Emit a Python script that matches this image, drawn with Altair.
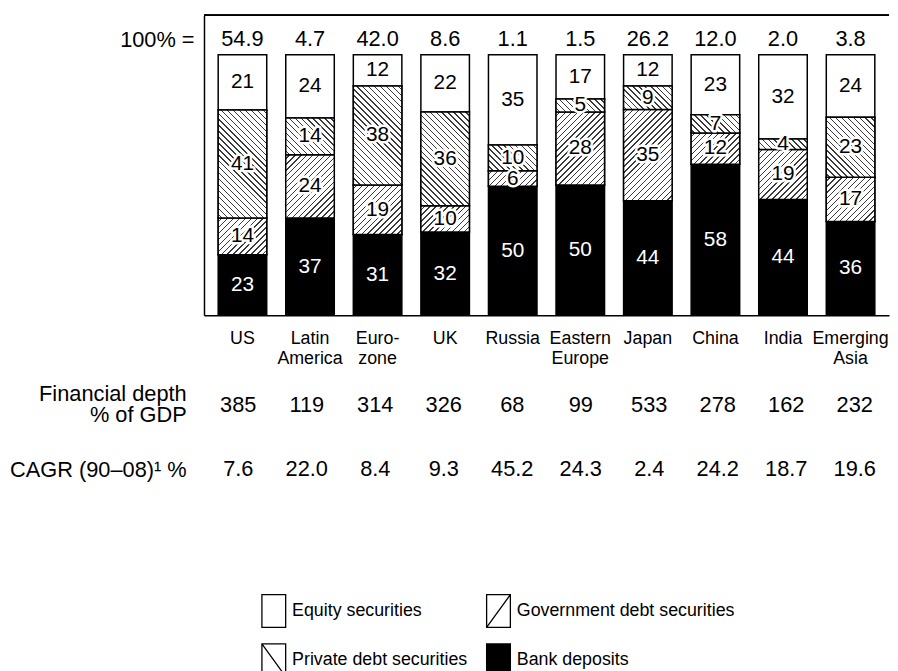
import altair as alt
import pandas as pd

# ---------------- data ----------------
categories = ["US", "Latin\nAmerica", "Euro-\nzone", "UK", "Russia",
              "Eastern\nEurope", "Japan", "China", "India", "Emerging\nAsia"]
totals = [54.9, 4.7, 42.0, 8.6, 1.1, 1.5, 26.2, 12.0, 2.0, 3.8]
series = ["Bank deposits", "Government debt securities",
          "Private debt securities", "Equity securities"]  # bottom -> top
bank = [23, 37, 31, 32, 50, 50, 44, 58, 44, 36]
government = [14, 24, 19, 10, 6, 28, 35, 12, 19, 17]
private = [41, 14, 38, 36, 10, 5, 9, 7, 4, 23]
equity = [21, 24, 12, 22, 35, 17, 12, 23, 32, 24]
depth = [385, 119, 314, 326, 68, 99, 533, 278, 162, 232]
cagr = [7.6, 22.0, 8.4, 9.3, 45.2, 24.3, 2.4, 24.2, 18.7, 19.6]
row_labels = ["Financial depth\n% of GDP", "CAGR (90\u201308)\u00b9 %"]
legend_order = ["Equity securities", "Government debt securities",
                "Private debt securities", "Bank deposits"]

# ---------------- layout constants ----------------
FONT = "Liberation Sans"
W = 692          # plot width
H = 303          # plot height of bar panel
YMAX = 115.1     # top of framed area (percent units)
PI, PO = 0.2817, 0.21
n = len(categories)
step = W / (n - PI + 2 * PO)
BW = step * (1 - PI)

values = {series[0]: bank, series[1]: government,
          series[2]: private, series[3]: equity}

rows = []
for i, c in enumerate(categories):
    tot = sum(values[s][i] for s in series)
    acc = 0.0
    for s in series:
        v = values[s][i]
        y0 = acc / tot * 100
        acc += v
        y1 = acc / tot * 100
        rows.append(dict(cat=c, series=s, value=v, y0=y0, y1=y1,
                         mid=(y0 + y1) / 2, idx=len(rows)))
df = pd.DataFrame(rows)

tot_df = pd.DataFrame({"cat": categories, "total": totals})

tab_rows = []
for i, c in enumerate(categories):
    tab_rows.append(dict(cat=c, metric=row_labels[0], txt=f"{depth[i]:d}"))
    tab_rows.append(dict(cat=c, metric=row_labels[1], txt=f"{cagr[i]:.1f}"))
tab_df = pd.DataFrame(tab_rows)


def hatch(h, direction, P=6.0, lw=1.0, color="#3a3a3a"):
    w = BW
    L = w + h
    half = lw * 1.414 / 2 / L
    stops = [{"offset": 0, "color": "white"}]
    k = 1
    while True:
        c = (k * P - 2) / L
        if c + half >= 1:
            break
        if c - half > 0:
            stops += [{"offset": c - half, "color": "white"},
                      {"offset": c - half, "color": color},
                      {"offset": c + half, "color": color},
                      {"offset": c + half, "color": "white"}]
        k += 1
    stops.append({"offset": 1, "color": "white"})
    r = h / w
    s = (1 + r) / (1 + r * r)
    if direction == "/":
        return {"gradient": "linear", "x1": 0, "y1": 0, "x2": s, "y2": s * r,
                "stops": stops}
    return {"gradient": "linear", "x1": 1, "y1": 0, "x2": 1 - s, "y2": s * r,
            "stops": stops}


xscale = alt.Scale(domain=categories, paddingInner=PI, paddingOuter=PO)
yscale = alt.Scale(domain=[0, YMAX], nice=False, zero=True)
XS = alt.X("cat:N", scale=xscale, sort=categories)

X = alt.X("cat:N", scale=xscale, sort=categories,
          axis=alt.Axis(title=None, labelAngle=0, ticks=False, domain=True,
                        domainColor="black", domainWidth=1.5,
                        labelFontSize=18, labelColor="black",
                        labelLineHeight=21, labelPadding=14,
                        labelExpr="split(datum.label, '\\n')"))
Y = alt.Y("y0:Q", scale=yscale,
          axis=alt.Axis(title=None, values=[106], labelExpr="'100% ='",
                        ticks=False, grid=False, domain=True,
                        domainColor="black", domainWidth=1.5,
                        labelFontSize=22, labelColor="black",
                        labelPadding=10))

BOX = "M-0.727,-1H0.727V1H-0.727Z"
shape_range = [BOX, BOX + " M-0.727,1L0.727,-1",
               BOX + " M-0.727,-1L0.727,1", BOX]

legend = alt.Legend(
    title=None, orient="none", legendX=53, legendY=584, columns=2,
    direction="horizontal",
    symbolSize=1089, labelFontSize=18, labelFont=FONT, labelColor="black",
    labelLimit=400, labelOffset=1, columnPadding=13, rowPadding=11,
    symbolStrokeWidth=1.3, symbolOpacity=1,
)

base = alt.Chart(df).mark_bar(stroke="black", strokeWidth=1.5).encode(
    x=X, y=Y, y2="y1:Q",
    color=alt.condition(f"datum.series === '{series[0]}'",
                        alt.value("black"), alt.value("white")))

legend_pts = alt.Chart(df).transform_filter("false").mark_point(
    filled=True, strokeWidth=1.3, opacity=1).encode(
    x=XS, y=alt.Y("mid:Q", scale=yscale),
    fill=alt.Fill("series:N",
                  scale=alt.Scale(domain=legend_order,
                                  range=["white", "white", "white", "black"]),
                  legend=legend),
    stroke=alt.Stroke("series:N",
                      scale=alt.Scale(domain=legend_order,
                                      range=["black", "black", "black", "black"]),
                      legend=legend),
    shape=alt.Shape("series:N",
                    scale=alt.Scale(domain=legend_order, range=shape_range),
                    legend=legend))

layers = [base]
for r in rows:
    if r["series"] in (series[1], series[2]):
        h = (r["y1"] - r["y0"]) / YMAX * H
        g = hatch(h, "/" if r["series"] == series[1] else "\\")
        layers.append(
            alt.Chart(df).transform_filter(f"datum.idx == {r['idx']}")
            .mark_bar(fill=g, stroke="black", strokeWidth=1.5)
            .encode(x=XS, y=alt.Y("y0:Q", scale=yscale), y2="y1:Q")
        )

halo = alt.Chart(df).transform_filter(
    f"datum.series !== '{series[0]}'"
).mark_text(fontSize=21, font=FONT, color="white", stroke="white",
            strokeWidth=5, strokeJoin="round", baseline="middle").encode(
    x=XS, y=alt.Y("mid:Q", scale=yscale), text="value:Q")

labels = alt.Chart(df).mark_text(fontSize=21, font=FONT,
                                 baseline="middle").encode(
    x=XS, y=alt.Y("mid:Q", scale=yscale), text="value:Q",
    color=alt.condition(f"datum.series === '{series[0]}'",
                        alt.value("white"), alt.value("black")))

tot_text = alt.Chart(tot_df).mark_text(fontSize=22, font=FONT,
                                       baseline="middle", color="black").encode(
    x=XS, y=alt.value(24), text=alt.Text("total:Q", format=".1f"))

top_rule = alt.Chart(tot_df).mark_rule(color="black", strokeWidth=1.5).encode(
    y=alt.datum(YMAX, scale=yscale))

top = alt.layer(*layers, legend_pts, halo, labels, tot_text,
                top_rule).properties(width=W, height=H)

table = alt.Chart(tab_df).mark_text(fontSize=22, font=FONT,
                                    color="black", baseline="middle").encode(
    x=alt.X("cat:N", scale=xscale, sort=categories, axis=None),
    y=alt.Y("metric:N", sort=row_labels,
            scale=alt.Scale(paddingInner=0, paddingOuter=0),
            axis=alt.Axis(title=None, ticks=False, domain=False,
                          labelFontSize=22, labelColor="black",
                          labelLineHeight=21, labelPadding=18,
                          labelLimit=400,
                          labelOffset={"condition": {
                              "test": "indexof(datum.label, 'Financial') >= 0",
                              "value": -11}, "value": 0},
                          labelExpr="split(datum.label, '\\n')")),
    text="txt:N",
).properties(width=W, height=130)

chart = alt.vconcat(top, table, spacing=5).properties(
    padding={"left": 1, "top": 3, "right": 0, "bottom": 0}
).configure(font=FONT).configure_view(strokeWidth=0, stroke=None).configure_axis(
    labelFont=FONT)

chart.save("out.html", embed_options={"renderer": "svg", "actions": False})
